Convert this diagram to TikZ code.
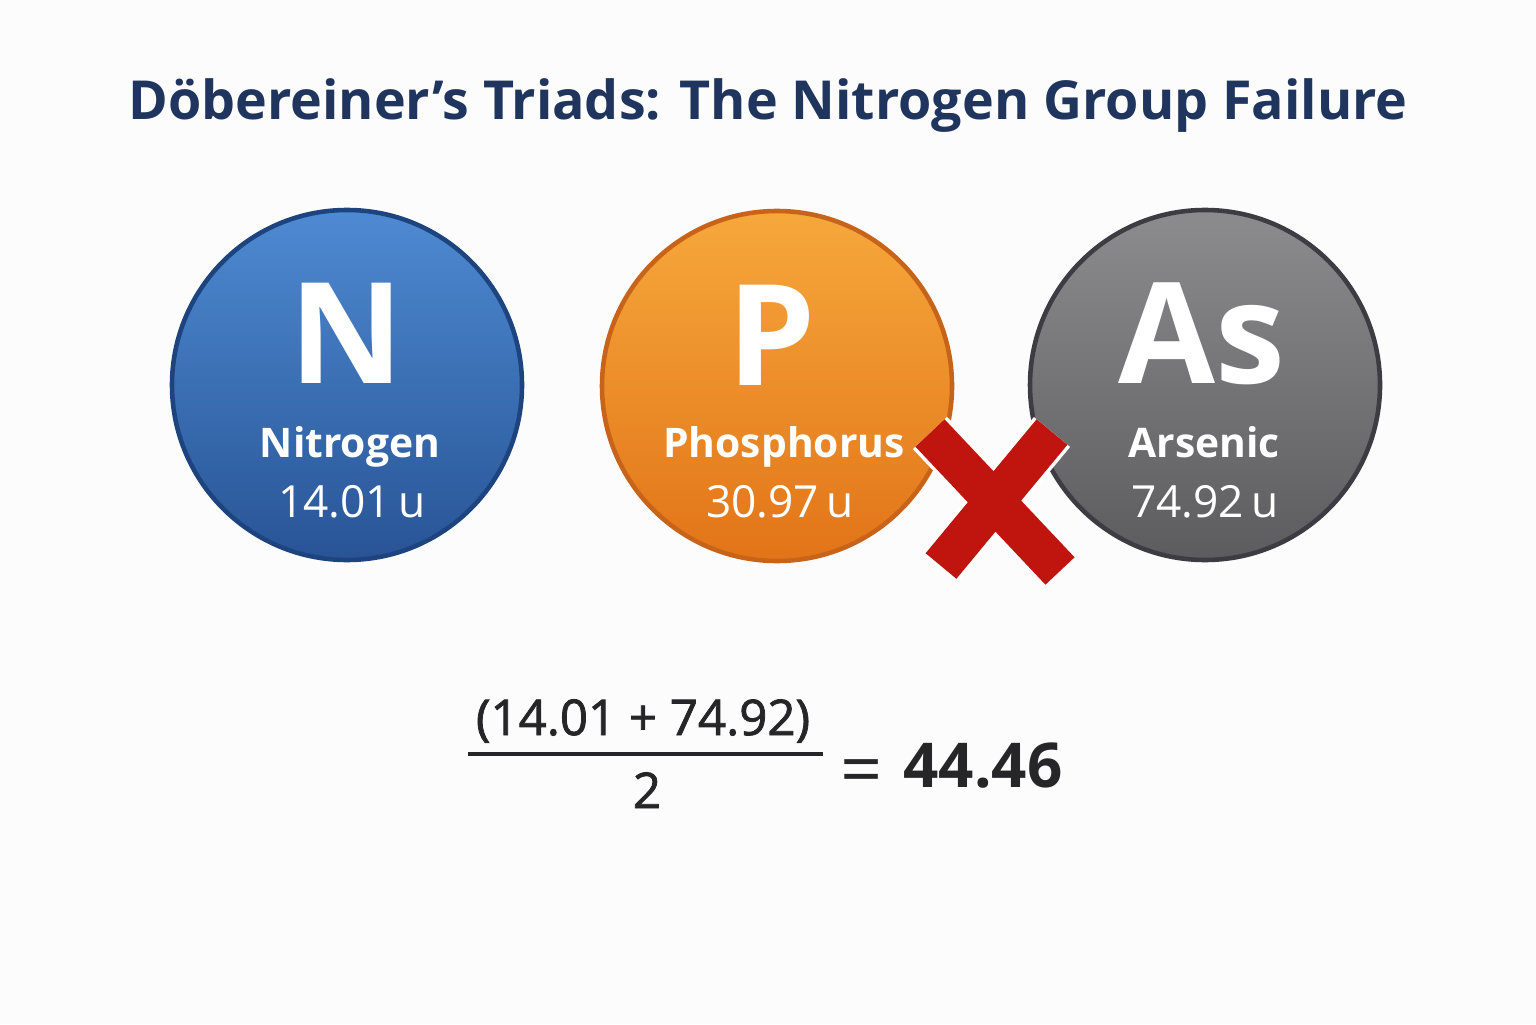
\documentclass[tikz,border=0pt]{standalone}
\usepackage{fontspec}
\setmainfont{Open Sans}
\newfontfamily\eqfont[FakeBold=1.6]{Open Sans}
\usepackage{tikz}
\usetikzlibrary{positioning,calc}
\definecolor{titleblue}{RGB}{31,53,94}
\definecolor{ink}{RGB}{38,38,40}
\definecolor{nitrotop}{RGB}{78,138,210}
\definecolor{nitrobot}{RGB}{40,84,150}
\definecolor{nitroedge}{RGB}{30,68,128}
\definecolor{phostop}{RGB}{246,168,60}
\definecolor{phosbot}{RGB}{226,116,24}
\definecolor{phosedge}{RGB}{200,100,26}
\definecolor{arsentop}{RGB}{140,140,142}
\definecolor{arsenbot}{RGB}{92,92,94}
\definecolor{arsenedge}{RGB}{60,60,66}
\definecolor{crossred}{RGB}{192,20,14}
\tikzset{
  elem/.style={circle, minimum size=3.5cm, inner sep=0pt, line width=1.3pt},
  symb/.style={white, anchor=base, font=\fontsize{40}{40}\selectfont\bfseries},
  ename/.style={white, anchor=base, font=\fontsize{11.6}{12}\selectfont\bfseries},
  emass/.style={white, anchor=base, font=\fontsize{12.6}{13}\selectfont},
  eqtext/.style={ink, anchor=base, font=\eqfont\fontsize{14}{14}\selectfont},
}

\begin{document}
\begin{tikzpicture}
  \useasboundingbox (0,0) rectangle (15.36,10.24);
  \fill[white!98!gray] (0,0) rectangle (15.36,10.24);
  \node[titleblue, anchor=base, font=\fontsize{15.3}{17}\selectfont\bfseries] (title) at (7.68,9.04) {Döbereiner’s Triads: The Nitrogen Group Failure};
  % the three elements
  \node[elem, top color=nitrotop, bottom color=nitrobot, draw=nitroedge] (nitro) at (3.47,6.39) {};
  \node[elem, top color=phostop, bottom color=phosbot, draw=phosedge] (phos) at (7.77,6.38) {};
  \node[elem, top color=arsentop, bottom color=arsenbot, draw=arsenedge] (arsen) at (12.05,6.39) {};
  \node[symb] (nsym) at (3.47,6.41) {N};
  \node[ename] (nname) at (3.50,5.67) {Nitrogen};
  \node[emass] (nmass) at (3.52,5.07) {14.01\,u};
  \node[symb] (psym) at (7.72,6.39) {P};
  \node[ename] (pname) at (7.84,5.67) {Phosphorus};
  \node[emass] (pmass) at (7.80,5.07) {30.97\,u};
  \node[symb] (assym) at (12.02,6.41) {As};
  \node[ename] (asname) at (12.04,5.67) {Arsenic};
  \node[emass] (asmass) at (12.05,5.07) {74.92\,u};
  % red cross between P and As
  \coordinate (xa1) at (9.30,5.91); \coordinate (xa2) at (10.60,4.53);
  \coordinate (xb1) at (10.52,5.92); \coordinate (xb2) at (9.41,4.58);
  \draw[white, line width=0.47cm] (xa1) -- (xa2) (xb1) -- (xb2);
  \draw[crossred, line width=0.40cm] (xa1) -- (xa2) (xb1) -- (xb2);
  % the average of N and As
  \node[eqtext] (numer) at (6.43,2.89) {(14.01 + 74.92)};
  \node[eqtext] (denom) at (6.47,2.16) {2};
  \coordinate (barl) at (4.68,2.70); \coordinate (barr) at (8.23,2.70);
  \draw[ink, line width=1.4pt] (barl) -- (barr);
  \node[ink, anchor=base, font=\fontsize{21}{21}\selectfont] (eq) at (8.62,2.29) {=};
  \node[ink, anchor=base, font=\fontsize{17.6}{18}\selectfont\bfseries] (avg) at (9.83,2.37) {44.46};
\end{tikzpicture}
\end{document}
